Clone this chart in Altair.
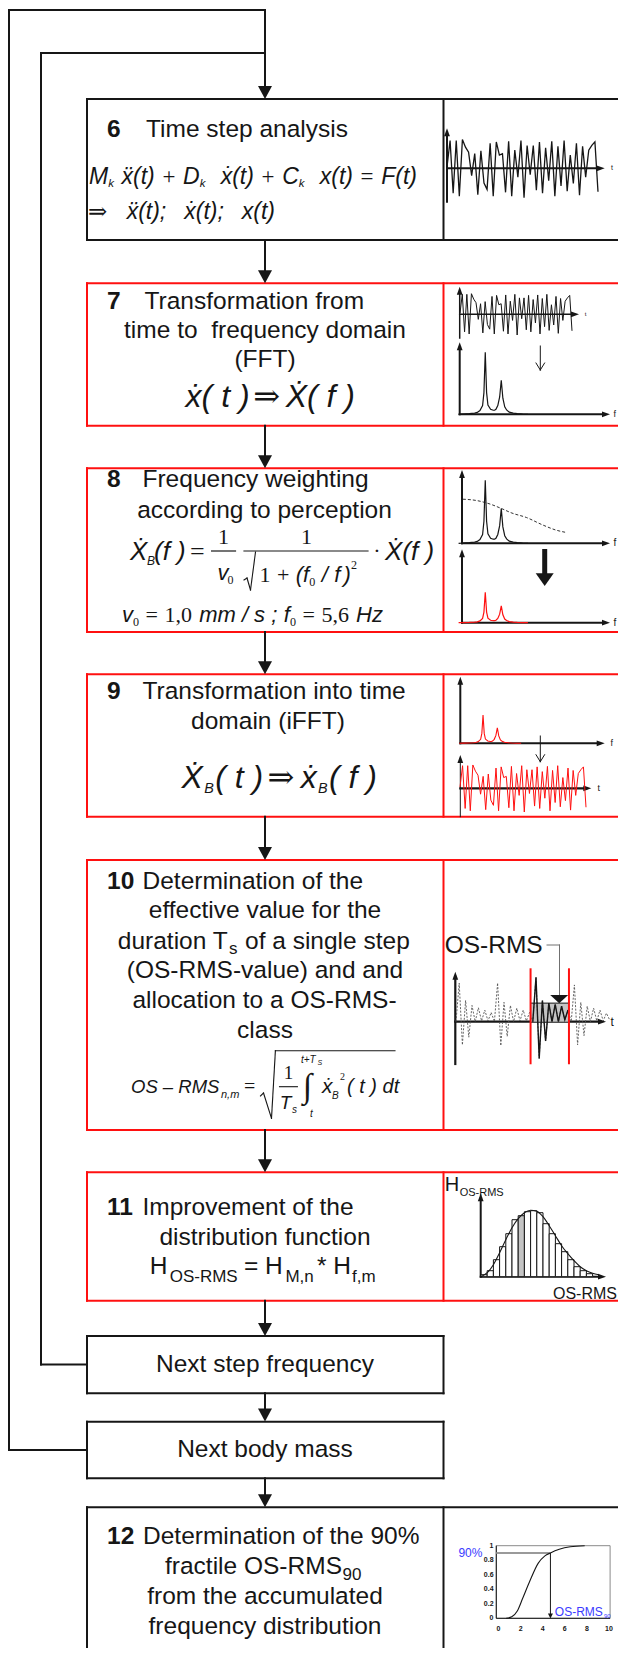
import altair as alt
import pandas as pd

# ============================================================ DATA
step_numbers = ["6", "7", "8", "9", "10", "11", "12"]
step_titles = ["Time step analysis", "Transformation from", "Frequency weighting",
               "Transformation into time", "Determination of the",
               "Improvement of the", "Determination of the 90%"]
centred_lines = ["time to\u00a0 frequency domain", "(FFT)", "according to perception",
                 "domain (iFFT)", "effective value for the", "(OS-RMS-value) and and",
                 "allocation to a OS-RMS-", "class", "distribution function",
                 "Next step frequency", "Next body mass", "from the accumulated",
                 "frequency distribution"]

# velocity time history (drawn in steps 6, 7 and 9)
velocity = [0.05, 0.95, -0.85, 0.95, -0.95, 0.98, 0.72, 0.55, -0.25, 0.5,
            -0.9, 0.6, -0.5, -0.72, 0.85, -0.95, 0.9, 0.45, 0.5, -0.82,
            0.92, -0.95, 0.62, -0.3, 0.95, -1.0, 0.78, -0.22, 0.78, -0.75,
            0.9, -0.85, 0.7, -0.42, 0.92, -0.95, 0.75, -0.6, 0.95, -0.78,
            0.45, -0.52, 0.85, -0.92, 0.75, -0.3, 0.62, 0.78, 0.9, -0.8]
velocity_t = list(range(len(velocity)))

# response spectrum (relative frequency, normalised amplitude)
spec_f = [0, 2, 4, 6, 7, 8, 9, 9.5, 10, 10.5, 11, 12, 13, 13.5, 14, 14.7, 15.4,
          16, 16.6, 17.3, 18, 19, 20.5, 22, 24, 26]
spec_a = [0, 0.005, 0.01, 0.02, 0.03, 0.06, 0.14, 0.35, 1.0, 0.35, 0.15, 0.08,
          0.065, 0.065, 0.08, 0.14, 0.28, 0.55, 0.26, 0.12, 0.07, 0.035, 0.02,
          0.01, 0.004, 0]
# perception weighting curve
weight_f = [1.6, 6.6, 12, 15.9, 20, 25.4, 31.6, 36.5, 40.6]
weight_a = [0.70, 0.68, 0.62, 0.555, 0.48, 0.41, 0.29, 0.21, 0.17]

# weighted velocity, four single steps
os_signal = [0.0, 1.0, -0.6, 0.55, -0.4, 0.42, 0.0, 0.36, 0.02, 0.3, 0.02, 0.24,
             0.0, 1.0, -0.62, 0.5, -0.38, 0.42, 0.0, 0.35, 0.02, 0.3, 0.02, 0.24,
             0.0, 1.15, -0.95, 0.55, -0.5, 0.48, 0.0, 0.45, 0.0, 0.4, 0.05, 0.3,
             0.0, 0.95, -0.6, 0.5, -0.36, 0.4, 0.0, 0.35, 0.02, 0.3, 0.02, 0.22,
             0.05]
os_t = list(range(len(os_signal)))
os_window = [23.3, 35.3]
os_rms_level = 0.48

# histogram of OS-RMS classes and fitted density
hist_counts = [2, 6, 17, 30, 43, 57, 61, 65, 66, 64, 53, 43, 33, 25, 17, 10, 6, 3]
hist_grey_class = 6
curve_u = [0, 1, 2, 3, 4, 5, 6, 7, 8, 9, 10, 11, 12, 13, 14, 15, 16, 17, 18, 19]
curve_h = [0, 4, 12, 24, 37, 49, 58, 64, 66.5, 65.5, 60, 51, 41, 31, 23, 16, 10,
           6, 3.5, 2]

# cumulative distribution
cdf_x = [0.7, 1.2, 1.7, 2.2, 2.8, 3.6, 4.2, 4.7, 5.5, 6.5, 7.8]
cdf_y = [0, 0.02, 0.1, 0.28, 0.5, 0.76, 0.86, 0.9, 0.95, 0.985, 1.0]
cdf_xticks = [0, 2, 4, 6, 8, 10]
cdf_yticks = [0, 0.2, 0.4, 0.6, 0.8, 1]
cdf_ytick_labels = ["0", "0.2", "0.4", "0.6", "0.8", "1"]
fractile_x, fractile_p = 4.7, 0.9

# ============================================================ LAYOUT / STYLE
M = 8
VIEW_W, VIEW_H = 618, 1648          # stays inside the 626x1659 window
W, H = VIEW_W - M, VIEW_H - M
BLACK, RED, GREY, BLUE = "#161616", "#ff1010", "#c4c4c4", "#3b3bff"
FS = 24.5


def scale(d0, d1, p0, p1):
    return alt.Scale(domain=[d0, d1], range=[p0 - M, p1 - M], nice=False, zero=False)


PX = scale(M, VIEW_W, M, VIEW_W)
PY = scale(M, VIEW_H, M, VIEW_H)

layers = []

# ---------- straight lines of the diagram
segs = []


def seg(x1, y1, x2, y2, c=BLACK, w=2.0):
    segs.append(dict(x=x1, y=y1, x2=x2, y2=y2, c=c, w=w))


def poly(pts, c=BLACK, w=2.0):
    for (a, b), (cx, cy) in zip(pts[:-1], pts[1:]):
        seg(a, b, cx, cy, c, w)


XL, XD, XR, XC = 87, 443.5, 660, 265
box_rows = [(99, 240, BLACK, True), (283.3, 425.7, RED, True), (468.3, 632, RED, True),
            (674.3, 816.7, RED, True), (860, 1130, RED, True), (1172.3, 1300.7, RED, True),
            (1336, 1393.3, BLACK, False), (1421.7, 1478.3, BLACK, False),
            (1507.3, 1690, BLACK, True)]
for top, bot, col, panel in box_rows:
    right = XR if panel else XD
    seg(XL, top, right, top, col)
    seg(XL, bot, right, bot, col)
    seg(XL, top, XL, bot, col)
    seg(XD, top, XD, bot, col)

arrow_tips = [box_rows[0][0]]
for r0, r1 in zip(box_rows[:-1], box_rows[1:]):
    seg(XC, r0[1], XC, r1[0] - 8)
    arrow_tips.append(r1[0])
poly([(XL, 1450), (9, 1450), (9, 10), (XC, 10), (XC, 92)])
poly([(XL, 1364.6), (41, 1364.6), (41, 53), (XC, 53)])

# axes of the small sketches: up axes (x, y_base, y_tip, width) and right axes
axes_up = [(447, 201.7, 128.3, 2), (459.7, 338, 286.7, 1.5), (459.7, 414.3, 342.3, 2),
           (462, 543.3, 470, 2), (462, 622.7, 549.3, 2), (460.3, 743.3, 676.7, 2),
           (460.3, 816.7, 755, 1), (455.3, 1064, 971.7, 2.2), (480.7, 1276.7, 1193.3, 2)]
axes_right = [(447, 168.3, 604.7, 2), (459.7, 314.3, 579, 1.5), (459.7, 414.3, 610, 2),
              (462, 543.3, 610, 2), (462, 622.7, 610, 2), (460.3, 743.3, 604.7, 2),
              (460.3, 788.3, 591.3, 2.2), (455.3, 1021.7, 606, 2.2), (480.7, 1276.7, 606, 2)]
for x, yb, yt, w in axes_up:
    seg(x, yb, x, yt + 5, BLACK, w)
for x0, y, xt, w in axes_right:
    seg(x0, y, xt - 5, y, BLACK, w)

# thin open arrows (step 7 and 9)
for x, y0, y1 in [(540.3, 346, 370), (540.3, 736, 761.7)]:
    seg(x, y0, x, y1, BLACK, 1)
    seg(x - 4.3, y1 - 7, x, y1, BLACK, 1)
    seg(x + 4.3, y1 - 7, x, y1, BLACK, 1)
# thick arrow (step 8)
seg(544.7, 551.5, 544.7, 574, BLACK, 5)
# leader of the OS-RMS label (step 10)
poly([(547, 945), (559.5, 945), (559.5, 995)], "#707070", 1)
# fraction bars and radicals
seg(211.6, 551, 235.5, 551, BLACK, 1.2)
seg(244, 551, 368, 551, BLACK, 1.2)
poly([(244, 580), (247, 578), (250.5, 590), (255.5, 552)], BLACK, 1.1)
seg(279.5, 1086.7, 297.4, 1086.7, BLACK, 1.1)
poly([(260.5, 1096), (263.5, 1093), (271.5, 1118.3), (275.4, 1050.7), (395, 1050.7)],
     BLACK, 1.1)

layers.append(alt.Chart(pd.DataFrame(segs)).mark_rule(strokeCap="square").encode(
    x=alt.X("x:Q", scale=PX, axis=None), x2="x2:Q",
    y=alt.Y("y:Q", scale=PY, axis=None), y2="y2:Q",
    color=alt.Color("c:N", scale=None),
    strokeWidth=alt.StrokeWidth("w:Q", scale=None)))


# ---------- filled arrow heads
def heads(pts, shape, side, color=BLACK, xs=PX, ys=PY):
    df = pd.DataFrame(pts, columns=["x", "y"])
    return alt.Chart(df).mark_point(shape=shape, filled=True, size=side * side,
                                    color=color, opacity=1, strokeWidth=0).encode(
        x=alt.X("x:Q", scale=xs, axis=None), y=alt.Y("y:Q", scale=ys, axis=None))


layers.append(heads([(XC, t - 6.6) for t in arrow_tips], "M-1,-0.93L1,-0.93L0,0.93Z", 14))
layers.append(heads([(x, yt + 4) for x, _, yt, _ in axes_up], "M0,-1L0.72,1L-0.72,1Z", 8))
layers.append(heads([(xt - 4, y) for _, y, xt, _ in axes_right], "M1,0L-1,0.72L-1,-0.72Z", 8))
layers.append(heads([(544.7, 579.6)], "M-1,-0.7L1,-0.7L0,0.7Z", 18))
layers.append(heads([(559.2, 999.2)], "M-1,-0.46L1,-0.46L0,0.46Z", 18))

# ---------- mini plots drawn from the data through their own scales


def line(xs, ys, xsc, ysc, color, width, dash=None, interp="linear"):
    df = pd.DataFrame({"u": xs, "v": ys, "o": list(range(len(xs)))})
    kw = dict(color=color, strokeWidth=width, interpolate=interp)
    if dash:
        kw["strokeDash"] = dash
    return alt.Chart(df).mark_line(**kw).encode(
        x=alt.X("u:Q", scale=xsc, axis=None),
        y=alt.Y("v:Q", scale=ysc, axis=None), order="o:Q")


n_v = len(velocity) - 1
# step 6
layers.append(line(velocity_t, velocity, scale(0, n_v, 447, 598),
                   scale(-1, 1, 197.6, 139), BLACK, 1.3))
# step 7
layers.append(line(velocity_t, velocity, scale(0, n_v, 460, 572),
                   scale(-1, 1, 335, 293.3), BLACK, 1.0))
FX = scale(0, 60, 458.6, 618.6)
layers.append(line(spec_f, spec_a, FX, scale(0, 1, 414.3, 352.3), BLACK, 1.2))
# step 8
W8 = scale(0, 1, 543.3, 480.3)
layers.append(line(weight_f, weight_a, FX, W8, "#333333", 1.0, dash=[3, 2], interp="monotone"))
layers.append(line(spec_f, spec_a, FX, W8, BLACK, 1.2))
layers.append(line(spec_f, spec_a, FX, scale(0, 1, 622.7, 592.3), RED, 1.2))
# step 9
layers.append(line(spec_f, spec_a, scale(0, 60, 459.2, 602.2),
                   scale(0, 1, 743.3, 715), RED, 1.1))
layers.append(line(velocity_t, velocity, scale(0, n_v, 460, 586),
                   scale(-1, 1, 812, 764.5), RED, 1.0))
# step 10
OX = scale(0, 50, 456, 616)
OY = scale(-1, 1, 1060.4, 983)
win = pd.DataFrame({"a": [os_window[0]], "b": [os_window[1]], "z": [0.0],
                    "r": [os_rms_level], "lo": [-1.1], "hi": [1.38]})
layers.append(alt.Chart(win).mark_rect(color=GREY).encode(
    x=alt.X("a:Q", scale=OX, axis=None), x2="b:Q",
    y=alt.Y("z:Q", scale=OY, axis=None), y2="r:Q"))
layers.append(line(os_t, os_signal, OX, OY, "#555555", 0.9, dash=[2, 1.5]))
i0, i1 = 24, 36
layers.append(line(os_t[i0:i1], os_signal[i0:i1], OX, OY, BLACK, 1.4))
layers.append(alt.Chart(win).mark_rule(color=BLACK, strokeWidth=1).encode(
    x=alt.X("a:Q", scale=OX, axis=None), x2="b:Q",
    y=alt.Y("r:Q", scale=OY, axis=None)))
for col in ["a", "b"]:
    layers.append(alt.Chart(win).mark_rule(color=RED, strokeWidth=2).encode(
        x=alt.X(f"{col}:Q", scale=OX, axis=None),
        y=alt.Y("lo:Q", scale=OY, axis=None), y2="hi:Q"))
# step 11
HXS = scale(0, 18, 481, 592.6)
HYS = scale(0, 70, 1276.7, 1206.7)
hist = pd.DataFrame({"i0": list(range(len(hist_counts))), "h": hist_counts})
hist["i1"] = hist["i0"] + 1
hist["z"] = 0
hist["fill"] = [GREY if i == hist_grey_class else "white" for i in hist["i0"]]
layers.append(alt.Chart(hist).mark_rect(stroke=BLACK, strokeWidth=1).encode(
    x=alt.X("i0:Q", scale=HXS, axis=None), x2="i1:Q",
    y=alt.Y("z:Q", scale=HYS, axis=None), y2="h:Q",
    fill=alt.Fill("fill:N", scale=None)))
layers.append(line(curve_u, curve_h, HXS, HYS, BLACK, 1.1, interp="monotone"))
# step 12
CX = scale(0, 10, 498.5, 609)
CY = scale(0, 1, 1618.3, 1545.7)
frame = pd.DataFrame({"x0": [-0.2], "x1": [10.1], "y0": [0.0], "y1": [1.0]})
layers.append(alt.Chart(frame).mark_rect(fill="white", stroke="#8a8a8a", strokeWidth=1).encode(
    x=alt.X("x0:Q", scale=CX, axis=None), x2="x1:Q",
    y=alt.Y("y0:Q", scale=CY, axis=None), y2="y1:Q"))
layers.append(alt.Chart(frame).mark_rule(color=BLACK, strokeWidth=1).encode(
    x=alt.X("x0:Q", scale=CX, axis=None), x2="x1:Q", y=alt.Y("y0:Q", scale=CY, axis=None)))
layers.append(alt.Chart(frame).mark_rule(color=BLACK, strokeWidth=1).encode(
    x=alt.X("x0:Q", scale=CX, axis=None), y=alt.Y("y0:Q", scale=CY, axis=None), y2="y1:Q"))
frac = pd.DataFrame({"x0": [-0.2], "xf": [fractile_x], "p": [fractile_p], "z": [0.04]})
layers.append(alt.Chart(frac).mark_rule(color="#9a9a9a", strokeWidth=2).encode(
    x=alt.X("x0:Q", scale=CX, axis=None), x2="xf:Q", y=alt.Y("p:Q", scale=CY, axis=None)))
layers.append(line(cdf_x, cdf_y, CX, CY, BLACK, 1.1, interp="monotone"))
layers.append(alt.Chart(frac).mark_rule(color=BLACK, strokeWidth=1).encode(
    x=alt.X("xf:Q", scale=CX, axis=None), y=alt.Y("p:Q", scale=CY, axis=None), y2="z:Q"))
layers.append(heads([(fractile_x, 0.03)], "M-1,-1L1,-1L0,1Z", 5, BLACK, CX, CY))
xt = pd.DataFrame({"v": cdf_xticks, "y": [-0.15] * len(cdf_xticks),
                   "t": [str(v) for v in cdf_xticks]})
layers.append(alt.Chart(xt).mark_text(font="Liberation Sans", fontWeight="bold", fontSize=7,
                                      align="center", baseline="middle", color=BLACK).encode(
    x=alt.X("v:Q", scale=CX, axis=None), y=alt.Y("y:Q", scale=CY, axis=None), text="t:N"))
yt = pd.DataFrame({"v": cdf_yticks, "x": [-0.45] * len(cdf_yticks), "t": cdf_ytick_labels})
layers.append(alt.Chart(yt).mark_text(font="Liberation Sans", fontWeight="bold", fontSize=7,
                                      align="right", baseline="middle", color=BLACK).encode(
    x=alt.X("x:Q", scale=CX, axis=None), y=alt.Y("v:Q", scale=CY, axis=None), text="t:N"))
blue = pd.DataFrame({"x": [-1.45, 5.1, 9.55], "y": [0.9, 0.08, 0.03],
                     "t": ["90%", "OS-RMS", "90"], "s": [12, 12, 6],
                     "a": ["right", "left", "left"]})
for a, g in blue.groupby("a"):
    layers.append(alt.Chart(g).mark_text(font="Liberation Sans", align=a, baseline="middle",
                                         color=BLUE).encode(
        x=alt.X("x:Q", scale=CX, axis=None), y=alt.Y("y:Q", scale=CY, axis=None),
        text="t:N", size=alt.Size("s:Q", scale=None)))

# ---------- texts
texts = []


def T(s, x, y, size=FS, font="sans", align="left", color=BLACK):
    texts.append(dict(t=s, x=x, y=y, s=size, f=font, a=align, c=color))


number_y = [130, 301.7, 480, 691.7, 881.7, 1208, 1537]
title_x = [146, 144.5, 142.5, 142.5, 142.5, 142.5, 143]
for num, title, tx, ty in zip(step_numbers, step_titles, title_x, number_y):
    T(num, 107, ty, FS, "bold")
    T(title, tx, ty, FS, "sans")
centred_y = [331, 360, 510.7, 721.7, 911, 970.7, 1001, 1030.7, 1237.7, 1364.7, 1450,
             1597, 1627]
centred_x = [265, 265, 264.5, 268, 265, 265, 264.5, 265, 265, 265, 265, 265, 265]
for s, cx, cy in zip(centred_lines, centred_x, centred_y):
    T(s, cx, cy, FS, "sans", "center")
T("duration T", 117.8, 941.7)
T("s", 229, 949, 17)
T("of a single step", 245, 941.7)
T("fractile OS-RMS", 165, 1567)
T("90", 342.5, 1574.5, 17)
T("H", 149.7, 1266.7)
T("OS-RMS", 169.7, 1277, 17)
T("= H", 244, 1266.7)
T("M,n", 285.4, 1277, 17)
T("* H", 317, 1266.7)
T("f,m", 352, 1277, 17)
# texts in the sketches
T("OS-RMS", 444.7, 946, FS)
T("H", 444.7, 1185, 20)
T("OS-RMS", 459.7, 1193, 11)
T("OS-RMS", 553, 1294, 16)
for s, x, y, sz in [("t", 611, 168.3, 7), ("t", 584.7, 314.3, 6), ("f", 613.5, 414.3, 9),
                    ("f", 613.5, 543.3, 10), ("f", 613.5, 622.7, 10), ("f", 610.5, 743.3, 9),
                    ("t", 597.5, 788.3, 9), ("t", 610.5, 1021.7, 12)]:
    T(s, x, y, sz)

# formulas -- run layout with Arial-like advance widths
ADV = {' ': 278, '\u00a0': 278, '(': 333, ')': 333, '+': 584, '=': 584, ',': 278,
       ';': 278, '/': 278, '.': 278, '*': 389, '-': 333, '\u2013': 556, '\u00b7': 278,
       '\u21d2': 900, '%': 889, 'f': 278, 't': 278, 'i': 222, 'l': 222, 'r': 333,
       'm': 833, 'M': 833, 'D': 722, 'C': 722, 'H': 722, 'F': 611, 'k': 500, 'z': 500,
       'v': 500, 'x': 500, 's': 500, '\u1e8b': 500, '\u1e8d': 500, '\u1e8a': 667,
       'B': 667}


def adv(s, font, size):
    tot = 0
    for ch in s:
        if font == "serif" and ch.isdigit():
            tot += 500
        elif font == "serif" and ch in "=+":
            tot += 564
        else:
            tot += ADV.get(ch, 556)
    return tot * size / 1000.0


def runs(items, x0, x1, yc, base):
    nat = [adv(t, f, base * r) for t, r, dy, f, g in items]
    gsum = sum(it[4] for it in items)
    extra = (x1 - x0 - sum(nat)) / gsum if gsum else 0
    x = x0
    for (t, r, dy, f, g), n in zip(items, nat):
        x += g * extra
        T(t, x, yc + dy * base, base * r, f)
        x += n


SUB, SUP = 0.33, -0.45
runs([("M", 1, 0, "it", 0), ("k", .5, SUB, "it", 0), ("\u1e8d(t)", 1, 0, "it", 1),
      ("+", 1, 0, "serif", 1), ("D", 1, 0, "it", 1), ("k", .5, SUB, "it", 0),
      ("\u1e8b(t)", 1, 0, "it", 2), ("+", 1, 0, "serif", 1), ("C", 1, 0, "it", 1),
      ("k", .5, SUB, "it", 0), ("x(t)", 1, 0, "it", 2), ("=", 1, 0, "serif", 1),
      ("F(t)", 1, 0, "it", 1)], 89, 417, 176.7, 23)
runs([("\u21d2", 1, 0, "serif", 0), ("\u1e8d(t);", 1, 0, "it", 1),
      ("\u1e8b(t);", 1, 0, "it", 1), ("x(t)", 1, 0, "it", 1)], 88, 275, 211.7, 23)
runs([("\u1e8b( t )", 1, 0, "it", 0), ("\u21d2", 1, 0, "serif", 1),
      ("\u1e8a( f )", 1, 0, "it", 1)], 185.6, 355, 396.7, 32)
# step 8
T("\u1e8a", 130, 551.7, 26, "it")
T("B", 147, 560.5, 12, "it")
T("(f )", 154, 551.7, 26, "it")
T("=", 190, 551.7, 26, "serif")
T("1", 223.5, 536.7, 22, "serif", "center")
T("v", 217.6, 573, 22, "it")
T("0", 227.5, 580, 12, "serif")
T("1", 306.6, 536.7, 22, "serif", "center")
runs([("1", 1, 0, "serif", 0), ("+", 1, 0, "serif", 1), ("(", 1, 0, "it", 1),
      ("f", 1, 0, "it", 0), ("0", .55, .3, "serif", 0), ("/", 1, 0, "it", 1),
      ("f", 1, 0, "it", 1), (")", 1, 0, "it", .5), ("2", .55, SUP, "serif", 0)],
     259.5, 357, 575, 22)
T("\u00b7", 377, 551, 22, "serif", "center")
T("\u1e8a(f )", 385, 551.7, 26, "it")
runs([("v", 1, 0, "it", 0), ("0", .55, .3, "serif", 0), ("=", 1, 0, "serif", 1),
      ("1,0", 1, 0, "serif", 1), ("mm / s ;", 1, 0, "it", 1), ("f", 1, 0, "it", 1),
      ("0", .55, .3, "serif", 0), ("=", 1, 0, "serif", 1), ("5,6", 1, 0, "serif", 1),
      ("Hz", 1, 0, "it", 1)], 122, 383, 615, 22)
# step 9
runs([("\u1e8a", 1, 0, "it", 0), ("B", .45, SUB, "it", .3), ("( t )", 1, 0, "it", .3),
      ("\u21d2", 1, 0, "serif", 1), ("\u1e8b", 1, 0, "it", 1), ("B", .45, SUB, "it", .3),
      ("( f )", 1, 0, "it", .3)], 181.6, 377, 778, 32)
# step 10
T("OS \u2013 RMS", 131, 1086.7, 18.5, "it")
T("n,m", 221, 1095, 11, "it")
T("=", 244, 1087, 20, "serif")
T("1", 288.5, 1073, 19, "serif", "center")
T("T", 285.5, 1103, 19, "it", "center")
T("s", 292, 1110, 10, "it")
T("\u222b", 307.4, 1087, 34, "serif", "center")
T("t+T", 301, 1060, 10, "it")
T("S", 317.5, 1063, 7, "it")
T("t", 311.5, 1114, 10, "it", "center")
T("\u1e8b", 322, 1087, 21, "it")
T("B", 332, 1096, 10, "it")
T("2", 340, 1077, 10, "serif")
T("( t ) dt", 347, 1087, 20, "it")

FONT = {
    "sans": dict(font="Liberation Sans, Arial, sans-serif"),
    "bold": dict(font="Liberation Sans, Arial, sans-serif", fontWeight="bold"),
    "it": dict(font="Liberation Sans, DejaVu Sans, sans-serif", fontStyle="italic"),
    "serif": dict(font="Liberation Serif, DejaVu Serif, serif"),
}
tdf = pd.DataFrame(texts)
for (f, a), g in tdf.groupby(["f", "a"]):
    layers.append(alt.Chart(g).mark_text(align=a, baseline="middle", **FONT[f]).encode(
        x=alt.X("x:Q", scale=PX, axis=None), y=alt.Y("y:Q", scale=PY, axis=None),
        text="t:N", size=alt.Size("s:Q", scale=None),
        color=alt.Color("c:N", scale=None)))

chart = alt.layer(*layers).resolve_scale(x="independent", y="independent").properties(
    width=W, height=H, autosize=alt.AutoSizeParams(type="none"), padding=0,
    background="white").configure_view(strokeWidth=0)

chart.save("out.html", embed_options={"renderer": "svg", "actions": False})
